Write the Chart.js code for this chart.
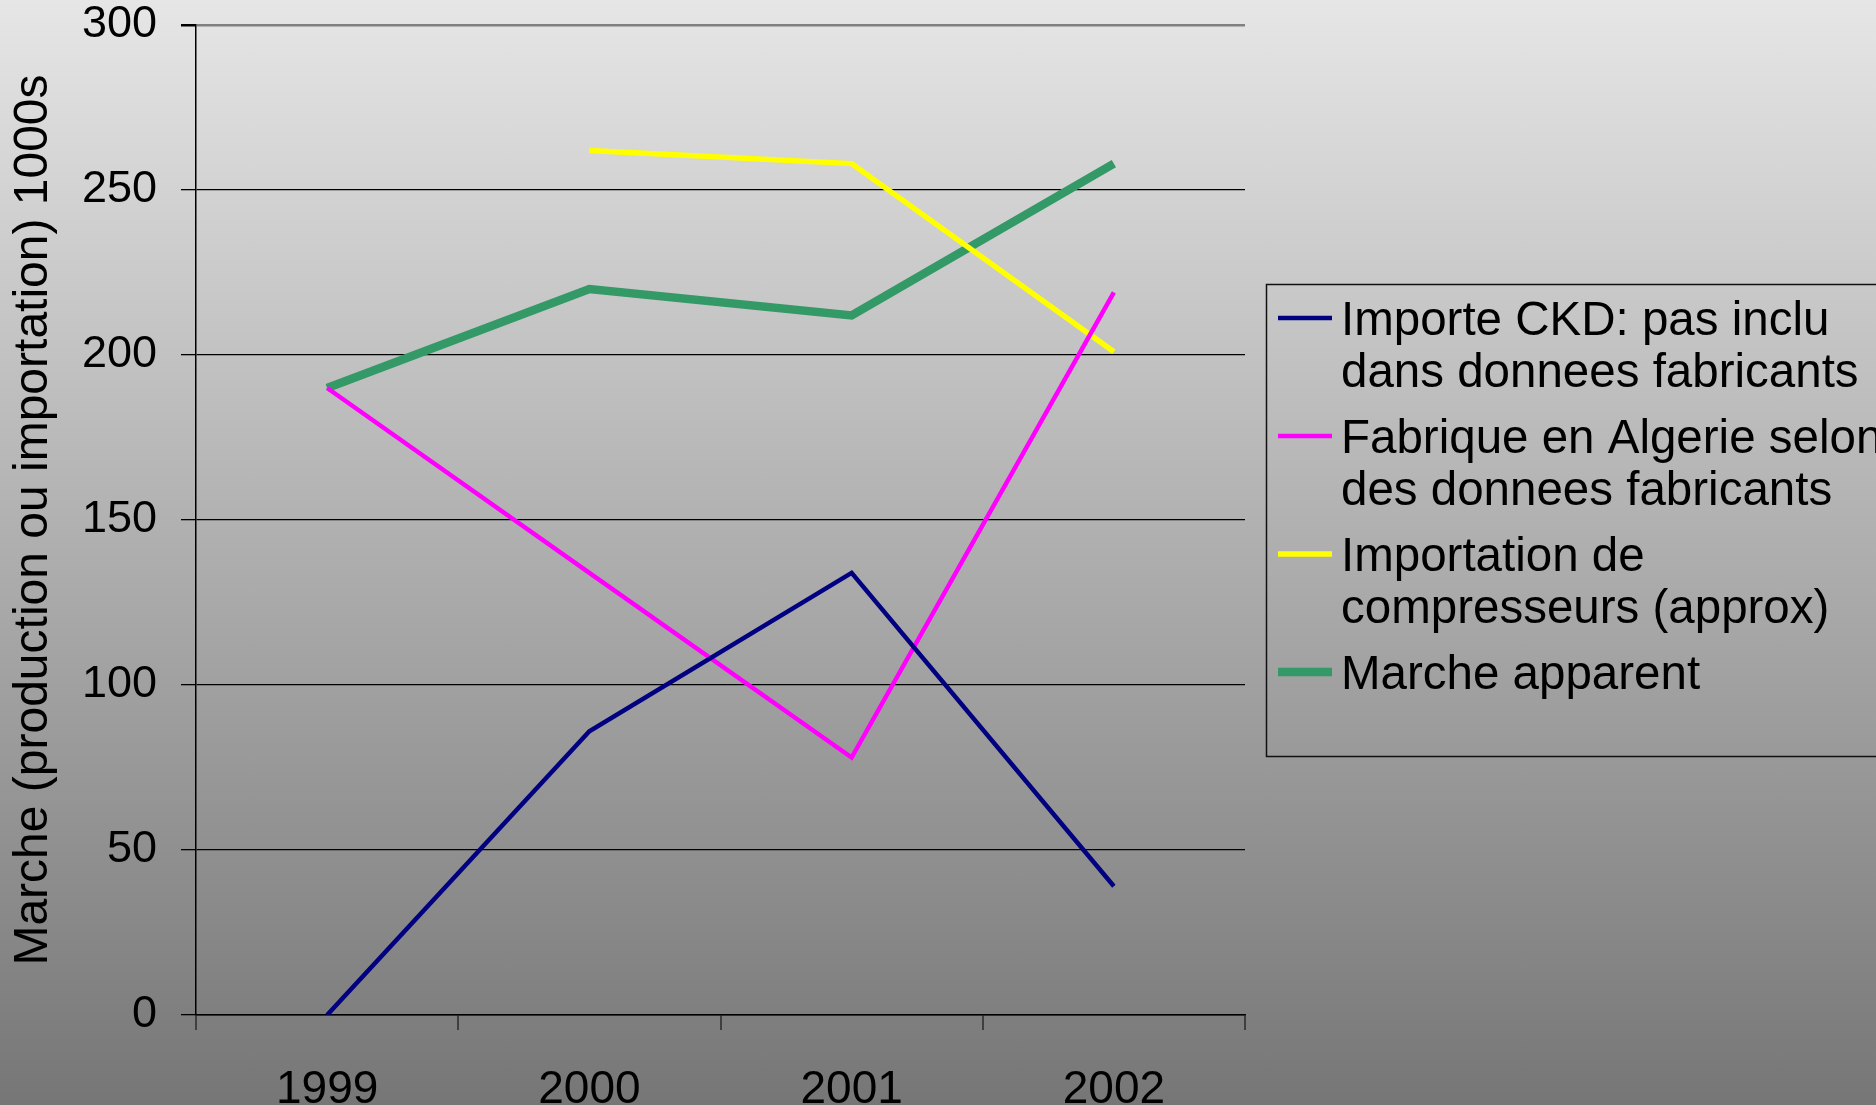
<!DOCTYPE html>
<html>
<head>
<meta charset="utf-8">
<script src="https://cdn.jsdelivr.net/npm/chart.js"></script>
<style>
    html, body { margin: 0; padding: 0; }
    body {
        width: 1876px;
        height: 1105px;
        background: linear-gradient(to bottom, #e6e6e6 0%, #767676 100%);
        overflow: hidden;
    }
    #wrap { position: relative; width: 1876px; height: 1105px; }
</style>
</head>
<body>
<div id="wrap"><canvas id="chart" width="1876" height="1105"></canvas></div>
<script>
// categories
const years = ["1999", "2000", "2001", "2002"];

// series (thousands of units)
const importeCKD = [0, 86, 134, 39];
const fabriqueAlgerie = [190, 134, 78, 219];
const importCompresseurs = [null, 262, 258, 201];
const marcheApparent = [190, 220, 212, 258];

// legend text, one entry per line
const seriesLabels = [
    ["Importe CKD: pas inclu", "dans donnees fabricants"],
    ["Fabrique en Algerie selon", "des donnees fabricants"],
    ["Importation de", "compresseurs (approx)"],
    ["Marche apparent"]
];

const yTitle = "Marche (production ou importation) 1000s";
const fontFamily = "Arial, 'Liberation Sans', sans-serif";

const legendBox = {
    id: "legendBox",
    afterDraw(chart) {
        const ctx = chart.ctx;
        ctx.save();
        ctx.strokeStyle = "#111";
        ctx.lineWidth = 1.5;
        ctx.strokeRect(1266.5, 284.5, 640, 472);
        ctx.font = "47.5px " + fontFamily;
        ctx.textBaseline = "alphabetic";
        ctx.fillStyle = "#000";
        chart.data.datasets.forEach((ds, i) => {
            const base = 335 + i * 118;
            ctx.strokeStyle = ds.borderColor;
            ctx.lineWidth = ds.borderWidth;
            ctx.beginPath();
            ctx.moveTo(1278, base - 17);
            ctx.lineTo(1332, base - 17);
            ctx.stroke();
            seriesLabels[i].forEach((line, j) => {
                ctx.fillText(line, 1341, base + j * 52);
            });
        });
        ctx.restore();
    }
};

new Chart(document.getElementById("chart"), {
    type: "line",
    data: {
        labels: years,
        datasets: [
            { label: seriesLabels[0].join(" "), data: importeCKD, borderColor: "#000080", borderWidth: 4.5 },
            { label: seriesLabels[1].join(" "), data: fabriqueAlgerie, borderColor: "#ff00ff", borderWidth: 4.5 },
            { label: seriesLabels[2].join(" "), data: importCompresseurs, borderColor: "#ffff00", borderWidth: 5.5 },
            { label: seriesLabels[3].join(" "), data: marcheApparent, borderColor: "#339966", borderWidth: 8.5 }
        ].map(d => Object.assign(d, {
            fill: false,
            tension: 0,
            pointRadius: 0,
            pointHoverRadius: 0,
            borderJoinStyle: "miter",
            spanGaps: false
        }))
    },
    options: {
        responsive: false,
        animation: false,
        events: [],
        layout: { padding: { top: 25, right: 631, left: 0, bottom: 0 } },
        plugins: {
            legend: { display: false },
            tooltip: { enabled: false }
        },
        scales: {
            x: {
                type: "category",
                offset: true,
                grid: {
                    offset: true,
                    drawOnChartArea: true,
                    color: c => c.index === years.length ? "#808080" : "rgba(0,0,0,0)",
                    lineWidth: 2,
                    tickColor: "#000",
                    tickLength: 15,
                    tickWidth: 1
                },
                border: { color: "#000", width: 1.5 },
                ticks: {
                    color: "#000",
                    font: { family: fontFamily, size: 46, lineHeight: 1.2 },
                    padding: 33,
                    maxRotation: 0
                },
                afterFit: s => { s.height = 90; }
            },
            y: {
                min: 0,
                max: 300,
                ticks: {
                    stepSize: 50,
                    color: "#000",
                    font: { family: fontFamily, size: 45, lineHeight: 1 },
                    padding: 24
                },
                grid: {
                    color: c => c.tick && c.tick.value === 300 ? "#808080" : "#000",
                    lineWidth: c => c.tick && c.tick.value === 300 ? 2.5 : 1.3,
                    tickColor: "#000",
                    tickLength: 15
                },
                border: { color: "#000", width: 1.5 },
                title: {
                    display: true,
                    text: yTitle,
                    color: "#000",
                    font: { family: fontFamily, size: 48, lineHeight: 1 },
                    padding: { top: 10, bottom: 0 }
                },
                afterFit: s => {
                    s.width = 196;
                    s.paddingTop = 0;
                    s.paddingBottom = 0;
                }
            }
        }
    },
    plugins: [legendBox]
});
</script>
</body>
</html>
